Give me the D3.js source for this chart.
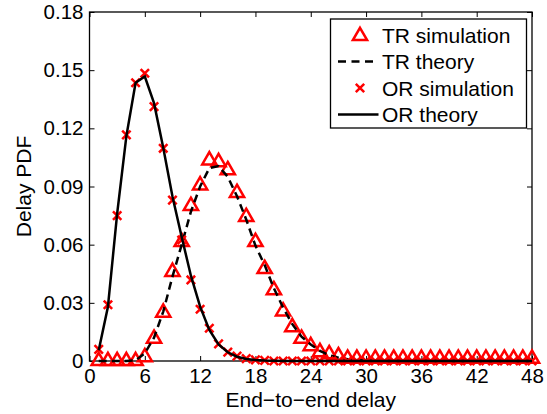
<!DOCTYPE html>
<html>
<head>
<meta charset="utf-8">
<script src="https://cdn.jsdelivr.net/npm/d3@7"></script>
<style>
  body { margin: 0; background: #fff; }
  svg { font-family: "Liberation Sans", Arial, Helvetica, sans-serif; }
</style>
</head>
<body>
<svg id="chart"></svg>
<script>
// delay values (x) shared by all series
let delay = [1, 2, 3, 4, 5, 6, 7, 8, 9, 10, 11, 12, 13, 14, 15, 16, 17, 18, 19, 20, 21, 22, 23, 24,
             25, 26, 27, 28, 29, 30, 31, 32, 33, 34, 35, 36, 37, 38, 39, 40, 41, 42, 43, 44, 45, 46, 47, 48]

let trSim = [0, 0, 0, 0, 0, 0.002, 0.0115, 0.025, 0.046, 0.0614, 0.080, 0.0906, 0.1035, 0.1026, 0.0984, 0.0867,
             0.0743, 0.0614, 0.0475, 0.0365, 0.0256, 0.0175, 0.0115, 0.0077, 0.0046, 0.0035, 0.0025, 0.0012,
             0.0012, 0.0012, 0.0012, 0.0012, 0.0012, 0.0012, 0.0012, 0.0012, 0.0012, 0.0012, 0.0012, 0.0012,
             0.0012, 0.0012, 0.0012, 0.0012, 0.0012, 0.0012, 0.0012, 0.0012]
let trTheory = [0, 0, 0, 0, 0.0003, 0.004, 0.012, 0.0255, 0.0435, 0.060, 0.077, 0.090, 0.0995, 0.1005, 0.095, 0.085,
                0.073, 0.0595, 0.0495, 0.0375, 0.0275, 0.019, 0.0125, 0.0085, 0.0052, 0.003, 0.0017, 0.0009,
                0.0005, 0.0002, 0, 0, 0, 0, 0, 0, 0, 0, 0, 0, 0, 0, 0, 0, 0, 0, 0, 0]
let orSim = [0.006, 0.029, 0.075, 0.1166, 0.1435, 0.1484, 0.1312, 0.1097, 0.083, 0.0624, 0.0418, 0.0267, 0.0169,
             0.0088, 0.0046, 0.0025, 0.0012, 0.0006, 0.0003, 0, 0, 0, 0, 0, 0, 0, 0, 0, 0, 0, 0, 0, 0, 0, 0, 0,
             0, 0, 0, 0, 0, 0, 0, 0, 0, 0, 0, 0]
let orTheory = [0.0055, 0.028, 0.076, 0.116, 0.1435, 0.1467, 0.133, 0.110, 0.0848, 0.064, 0.044, 0.028, 0.016,
                0.0085, 0.0045, 0.0022, 0.001, 0.0005, 0.0002, 0.0001, 0, 0, 0, 0, 0, 0, 0, 0, 0, 0, 0, 0, 0,
                0, 0, 0, 0, 0, 0, 0, 0, 0, 0, 0, 0, 0, 0, 0]

let xTicks = [0, 6, 12, 18, 24, 30, 36, 42, 48]
let yTicks = [0, 0.03, 0.06, 0.09, 0.12, 0.15, 0.18]
let yTickLabels = ['0', '0.03', '0.06', '0.09', '0.12', '0.15', '0.18']
let legendLabels = ['TR simulation', 'TR theory', 'OR simulation', 'OR theory']

let width = 547
let height = 414
let plot = { left: 89.5, right: 532, top: 12, bottom: 361 }
let tickFont = 20.5
let labelFont = 21

let $svg = d3.select('#chart')
    .attr('width', width)
    .attr('height', height)

let x = d3.scaleLinear().domain([0, 48]).range([plot.left, plot.right])
let y = d3.scaleLinear().domain([0, 0.18]).range([plot.bottom, plot.top])

// axes, ticks pointing inward, mirrored on top / right
function styleAxis(g) {
    g.select('.domain').remove()
    g.selectAll('.tick line').attr('stroke', 'black').attr('stroke-width', 1)
    g.selectAll('.tick text').attr('fill', 'black').style('font-size', tickFont + 'px')
}

$svg.append('g')
    .attr('transform', `translate(0,${plot.bottom})`)
    .call(d3.axisBottom(x).tickValues(xTicks).tickSize(-5).tickPadding(7).tickFormat(d3.format('d')))
    .call(styleAxis)
$svg.append('g')
    .attr('transform', `translate(0,${plot.top})`)
    .call(d3.axisTop(x).tickValues(xTicks).tickSize(-5).tickFormat(''))
    .call(styleAxis)
$svg.append('g')
    .attr('transform', `translate(${plot.left},0)`)
    .call(d3.axisLeft(y).tickValues(yTicks).tickSize(-5).tickPadding(6)
        .tickFormat((d, i) => yTickLabels[i]))
    .call(styleAxis)
$svg.append('g')
    .attr('transform', `translate(${plot.right},0)`)
    .call(d3.axisRight(y).tickValues(yTicks).tickSize(-5).tickFormat(''))
    .call(styleAxis)

$svg.append('rect')
    .attr('x', plot.left)
    .attr('y', plot.top)
    .attr('width', plot.right - plot.left)
    .attr('height', plot.bottom - plot.top)
    .attr('fill', 'none')
    .attr('stroke', 'black')
    .attr('stroke-width', 1.3)

// axis titles
$svg.append('text')
    .attr('x', (plot.left + plot.right) / 2)
    .attr('y', 407)
    .attr('text-anchor', 'middle')
    .style('font-size', labelFont + 'px')
    .text('End\u2212to\u2212end delay')
$svg.append('text')
    .attr('transform', `translate(31,${(plot.top + plot.bottom) / 2}) rotate(-90)`)
    .attr('text-anchor', 'middle')
    .style('font-size', labelFont + 'px')
    .text('Delay PDF')

// marks
let triangle = d3.symbol().type(d3.symbolTriangle).size(88)
let crossPath = 'M-4.2,-4.2L4.2,4.2M-4.2,4.2L4.2,-4.2'
let line = d3.line()
    .x((d, i) => x(delay[i]))
    .y(d => y(d))

let $data = $svg.append('g').attr('class', 'data')

$data.append('g').selectAll('path')
    .data(trSim)
    .join('path')
    .attr('d', triangle)
    .attr('transform', (d, i) => `translate(${x(delay[i])},${y(d)})`)
    .attr('fill', 'none')
    .attr('stroke', '#ff0000')
    .attr('stroke-width', 2.5)

$data.append('path')
    .attr('d', line(trTheory))
    .attr('fill', 'none')
    .attr('stroke', 'black')
    .attr('stroke-width', 2.5)
    .attr('stroke-dasharray', '8,5')

$data.append('g').selectAll('path')
    .data(orSim)
    .join('path')
    .attr('d', crossPath)
    .attr('transform', (d, i) => `translate(${x(delay[i])},${y(d)})`)
    .attr('fill', 'none')
    .attr('stroke', '#ff0000')
    .attr('stroke-width', 2.5)

$data.append('path')
    .attr('d', line(orTheory))
    .attr('fill', 'none')
    .attr('stroke', 'black')
    .attr('stroke-width', 2.5)

// legend
let $legend = $svg.append('g').attr('class', 'legend')
$legend.append('rect')
    .attr('x', 330.5)
    .attr('y', 19)
    .attr('width', 196)
    .attr('height', 109)
    .attr('fill', 'white')
    .attr('stroke', 'black')
    .attr('stroke-width', 1.3)

let rowY = [35, 61.5, 88, 114.5]
legendLabels.forEach((label, i) => {
    let cy = rowY[i]
    if (i == 0) {
        $legend.append('path').attr('d', triangle)
            .attr('transform', `translate(360,${cy + 1})`)
            .attr('fill', 'none').attr('stroke', '#ff0000').attr('stroke-width', 2.5)
    } else if (i == 2) {
        $legend.append('path').attr('d', crossPath)
            .attr('transform', `translate(360,${cy})`)
            .attr('fill', 'none').attr('stroke', '#ff0000').attr('stroke-width', 2.5)
    } else {
        $legend.append('line')
            .attr('x1', 338).attr('x2', 378.5)
            .attr('y1', cy).attr('y2', cy)
            .attr('stroke', 'black').attr('stroke-width', 2.5)
            .attr('stroke-dasharray', i == 1 ? '8,5.5' : null)
    }
    $legend.append('text')
        .attr('x', 382)
        .attr('y', cy)
        .attr('dy', '0.36em')
        .style('font-size', labelFont + 'px')
        .text(label)
})
</script>
</body>
</html>
